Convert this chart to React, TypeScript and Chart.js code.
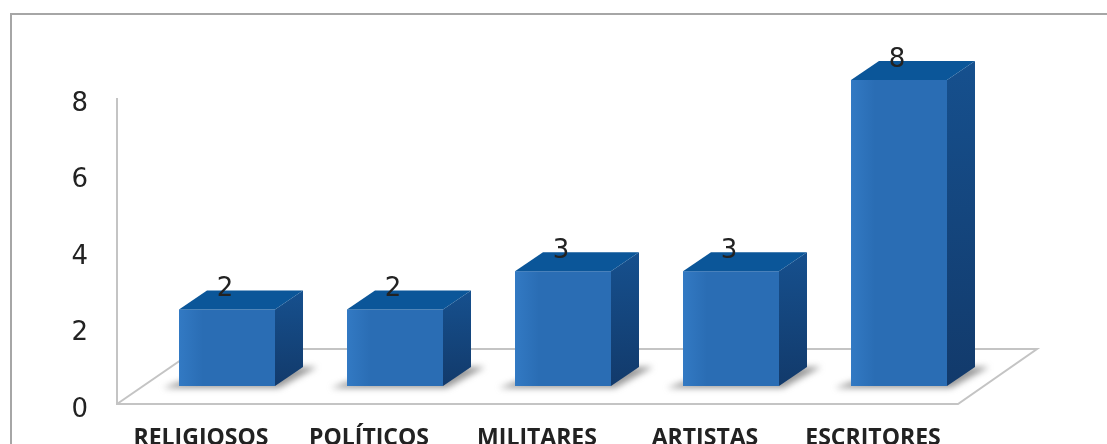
import { useEffect, useRef } from "react";
import { Chart, registerables } from "chart.js";

Chart.register(...registerables);

const categories = ["RELIGIOSOS", "POLÍTICOS", "MILITARES", "ARTISTAS", "ESCRITORES"];
const personas = [2, 2, 3, 3, 8];
const yTicks = [0, 2, 4, 6, 8];

const DEPTH_X = 28;
const DEPTH_Y = 19;
const SHIFT_X = 26;
const SHIFT_Y = -18;

// Page frame, floor and back-wall axis of the 3D scene.
const scenePlugin = {
  id: "scene",
  beforeDraw(chart: any) {
    const { ctx, chartArea: a } = chart;
    ctx.save();
    ctx.fillStyle = "#ffffff";
    ctx.fillRect(0, 0, chart.width, chart.height);
    ctx.strokeStyle = "#a6a6a6";
    ctx.lineWidth = 2;
    ctx.beginPath();
    ctx.moveTo(11, 444);
    ctx.lineTo(11, 14);
    ctx.lineTo(1107, 14);
    ctx.stroke();
    ctx.strokeStyle = "#c4c4c4";
    ctx.lineWidth = 2;
    ctx.beginPath();
    ctx.moveTo(a.left, a.top);
    ctx.lineTo(a.left, a.bottom);
    ctx.lineTo(a.right + 1, a.bottom);
    ctx.lineTo(a.right + 80, a.bottom - 55);
    ctx.lineTo(a.left + 80, a.bottom - 55);
    ctx.lineTo(a.left, a.bottom);
    ctx.stroke();
    ctx.restore();
  },
  // Bars sit in front of the back wall, so the whole dataset is offset on the floor.
  beforeDatasetsDraw(chart: any) {
    const { ctx } = chart;
    const bars = chart.getDatasetMeta(0).data;
    ctx.save();
    ctx.translate(SHIFT_X, SHIFT_Y);
    bars.forEach((bar: any) => {
      const l = bar.x - bar.width / 2;
      const r = bar.x + bar.width / 2;
      // soft contact shadow on the floor
      ctx.save();
      ctx.filter = "blur(3px)";
      ctx.fillStyle = "rgba(100,100,100,0.65)";
      ctx.beginPath();
      ctx.moveTo(l - 16, bar.base + 2);
      ctx.lineTo(r + 4, bar.base + 2);
      ctx.lineTo(r + DEPTH_X + 14, bar.base - DEPTH_Y);
      ctx.lineTo(r, bar.base - DEPTH_Y);
      ctx.lineTo(l, bar.base - 4);
      ctx.closePath();
      ctx.fill();
      ctx.restore();
    });
    ctx.restore();
    ctx.save();
    ctx.translate(SHIFT_X, SHIFT_Y);
  },
  afterDatasetsDraw(chart: any) {
    const { ctx } = chart;
    const bars = chart.getDatasetMeta(0).data;
    bars.forEach((bar: any, i: number) => {
      const l = bar.x - bar.width / 2;
      const r = bar.x + bar.width / 2;
      const top = bar.y;
      const base = bar.base;
      // lighter sheen down the left of the front face
      const sheen = ctx.createLinearGradient(l, 0, l + 24, 0);
      sheen.addColorStop(0, "rgba(70,150,230,0.3)");
      sheen.addColorStop(1, "rgba(70,150,230,0)");
      ctx.fillStyle = sheen;
      ctx.fillRect(l, top, 24, base - top);
      // right-hand face
      const side = ctx.createLinearGradient(0, top - DEPTH_Y, 0, base);
      side.addColorStop(0, "#16508e");
      side.addColorStop(1, "#123a6b");
      ctx.fillStyle = side;
      ctx.beginPath();
      ctx.moveTo(r, top);
      ctx.lineTo(r + DEPTH_X, top - DEPTH_Y);
      ctx.lineTo(r + DEPTH_X, base - DEPTH_Y);
      ctx.lineTo(r, base);
      ctx.closePath();
      ctx.fill();
      // top face
      ctx.fillStyle = "#0b5699";
      ctx.beginPath();
      ctx.moveTo(l, top);
      ctx.lineTo(l + DEPTH_X, top - DEPTH_Y);
      ctx.lineTo(r + DEPTH_X, top - DEPTH_Y);
      ctx.lineTo(r, top);
      ctx.closePath();
      ctx.fill();
      // value label over the top face
      ctx.fillStyle = "#222222";
      ctx.font = '26px "DejaVu Sans"';
      ctx.textAlign = "center";
      ctx.textBaseline = "middle";
      ctx.fillText(String(personas[i]), bar.x - 2, top - 20);
    });
    ctx.restore();
  },
};

export default function App() {
  const ref = useRef<HTMLCanvasElement>(null);

  useEffect(() => {
    const canvas = ref.current!;
    const chart = new Chart(canvas, {
      type: "bar",
      data: {
        labels: categories,
        datasets: [
          {
            data: personas,
            backgroundColor: (c: any) => {
              const el = c.element;
              if (!el || el.y == null) return "#2a6db4";
              const g = c.chart.ctx.createLinearGradient(0, el.y, 0, el.base);
              g.addColorStop(0, "#3173ba");
              g.addColorStop(0.55, "#2468b0");
              g.addColorStop(0.88, "#0e5aa6");
              g.addColorStop(1, "#0a4f96");
              return g;
            },
            borderWidth: 0,
            barPercentage: 96 / 168,
            categoryPercentage: 1,
            clip: false as any,
          },
        ],
      },
      options: {
        responsive: false,
        animation: false,
        layout: { padding: { left: 0, right: 150, top: 98, bottom: -1 } },
        plugins: { legend: { display: false }, tooltip: { enabled: false } },
        scales: {
          x: {
            afterFit: (axis: any) => {
              axis.height = 41;
            },
            grid: { display: false },
            border: { display: false },
            ticks: {
              color: "#222222",
              font: { family: "Open Sans", weight: "bold", size: 23 },
              maxRotation: 0,
              autoSkip: false,
              padding: 13,
            },
          },
          y: {
            min: 0,
            max: 8,
            afterFit: (axis: any) => {
              axis.width = 117;
            },
            afterBuildTicks: (axis: any) => {
              axis.ticks = yTicks.map((value) => ({ value }));
            },
            grid: { display: false },
            border: { display: false },
            ticks: {
              color: "#222222",
              font: { family: "DejaVu Sans", size: 26 },
              padding: 21,
              labelOffset: 6,
            },
          },
        },
      },
      plugins: [scenePlugin],
    } as any);
    return () => chart.destroy();
  }, []);

  return (
    <canvas
      ref={ref}
      width={1107}
      height={444}
      style={{ position: "fixed", left: 0, top: 0, width: 1107, height: 444 }}
    />
  );
}
